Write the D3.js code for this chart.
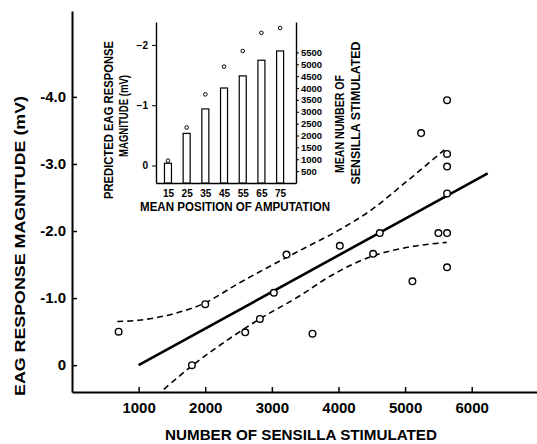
<!DOCTYPE html>
<html>
<head>
<meta charset="utf-8">
<script src="https://cdn.jsdelivr.net/npm/d3@7"></script>
<style>
  body { margin: 0; background: #fff; }
  svg { display: block; }
  text { font-family: "Liberation Sans", Arial, sans-serif; fill: #000; font-weight: bold; }
  .axis path, .axis line { stroke: #000; }
</style>
</head>
<body>
<div id="chart"></div>
<script>
// main plot: sensilla stimulated vs EAG response (mV, negative up)
var sensilla = [700, 1800, 2000, 2600, 2820, 3030, 3220, 3610, 4020, 4520, 4620, 5110, 5500, 5630, 5630, 5240, 5630, 5630, 5630, 5630];
var response = [-0.5, 0.0, -0.91, -0.49, -0.69, -1.08, -1.65, -0.47, -1.78, -1.66, -1.97, -1.25, -1.97, -1.97, -1.46, -3.46, -3.95, -3.15, -2.96, -2.56];

// regression line end points
var fitX = [1000, 6240];
var fitY = [0.0, -2.86];

// confidence band
var upperX = [680, 1000, 1500, 2000, 2500, 3000, 3500, 4000, 4500, 5000, 5590];
var upperY = [-0.65, -0.67, -0.76, -0.93, -1.22, -1.49, -1.75, -2.01, -2.32, -2.72, -3.21];
var lowerX = [1377, 1800, 2400, 2820, 3430, 3880, 4520, 5000, 5625];
var lowerY = [0.36, 0.01, -0.42, -0.69, -1.04, -1.33, -1.63, -1.75, -1.83];

var xTicks = [1000, 2000, 3000, 4000, 5000, 6000];
var yTicks = [0, -1, -2, -3, -4];

// inset: position of amputation
var positions = [15, 25, 35, 45, 55, 65, 75];
var meanSensilla = [830, 2090, 3120, 4000, 4510, 5170, 5560];
var predicted = [-0.08, -0.63, -1.18, -1.64, -1.90, -2.20, -2.28];
var insetLeftTicks = [0, -1, -2];
var insetRightTicks = [500, 1000, 1500, 2000, 2500, 3000, 3500, 4000, 4500, 5000, 5500];

var width = 537, height = 444;

var svg = d3.select('#chart').append('svg')
    .attr('width', width)
    .attr('height', height);

var x = d3.scaleLinear().domain([0, 6980]).range([72, 537]);
var y = d3.scaleLinear().domain([0.4, -5.28]).range([392, 11]);

// axes
var xAxis = svg.append('g')
    .attr('class', 'axis')
    .attr('transform', 'translate(0,392)')
    .call(d3.axisBottom(x).tickValues(xTicks).tickSize(-5).tickSizeOuter(0).tickPadding(10)
        .tickFormat(d3.format('d')));
xAxis.select('.domain').attr('stroke-width', 2);
xAxis.selectAll('line').attr('stroke-width', 1.5);
xAxis.selectAll('text').style('font-size', '15px').attr('dy', '0.71em');

var yAxis = svg.append('g')
    .attr('class', 'axis')
    .attr('transform', 'translate(72,0)')
    .call(d3.axisLeft(y).tickValues(yTicks).tickSize(-5).tickSizeOuter(0).tickPadding(6)
        .tickFormat(function(d) { return d === 0 ? '0' : d.toFixed(1); }));
yAxis.select('.domain').attr('stroke-width', 2);
yAxis.selectAll('line').attr('stroke-width', 1.5);
yAxis.selectAll('text').style('font-size', '15px');

svg.append('text')
    .attr('transform', 'translate(25,246) rotate(-90)')
    .attr('text-anchor', 'middle')
    .attr('textLength', 300)
    .attr('lengthAdjust', 'spacingAndGlyphs')
    .style('font-size', '15px')
    .text('EAG RESPONSE MAGNITUDE (mV)');

svg.append('text')
    .attr('x', 301)
    .attr('y', 440)
    .attr('text-anchor', 'middle')
    .attr('textLength', 272)
    .attr('lengthAdjust', 'spacingAndGlyphs')
    .style('font-size', '15px')
    .text('NUMBER OF SENSILLA STIMULATED');

// band + fit
var line = d3.line()
    .x(function(d) { return x(d[0]); })
    .y(function(d) { return y(d[1]); })
    .curve(d3.curveMonotoneX);

svg.append('path')
    .datum(d3.zip(upperX, upperY))
    .attr('d', line)
    .attr('fill', 'none')
    .attr('stroke', '#000')
    .attr('stroke-width', 1.6)
    .attr('stroke-dasharray', '6,4');

svg.append('path')
    .datum(d3.zip(lowerX, lowerY))
    .attr('d', line)
    .attr('fill', 'none')
    .attr('stroke', '#000')
    .attr('stroke-width', 1.6)
    .attr('stroke-dasharray', '6,4');

svg.append('path')
    .datum(d3.zip(fitX, fitY))
    .attr('d', d3.line().x(function(d) { return x(d[0]); }).y(function(d) { return y(d[1]); }))
    .attr('fill', 'none')
    .attr('stroke', '#000')
    .attr('stroke-width', 2.6);

svg.append('g')
    .selectAll('circle')
    .data(d3.zip(sensilla, response))
    .enter()
    .append('circle')
    .attr('cx', function(d) { return x(d[0]); })
    .attr('cy', function(d) { return y(d[1]); })
    .attr('r', 3.3)
    .attr('fill', '#fff')
    .attr('stroke', '#000')
    .attr('stroke-width', 1.4);

// ---- inset ----
var ix = d3.scaleLinear().domain([8.6, 83.5]).range([156, 296]);
var iyL = d3.scaleLinear().domain([0.29, -2.38]).range([183, 22]);
var iyR = d3.scaleLinear().domain([0, 6780]).range([183, 22]);

var inset = svg.append('g');

var ib = inset.append('g')
    .attr('class', 'axis')
    .attr('transform', 'translate(0,183)')
    .call(d3.axisBottom(ix).tickValues(positions).tickSize(0).tickSizeOuter(0).tickPadding(7));
ib.select('.domain').attr('stroke-width', 1.4);
ib.selectAll('text').style('font-size', '10px');

var il = inset.append('g')
    .attr('class', 'axis')
    .attr('transform', 'translate(156,0)')
    .call(d3.axisLeft(iyL).tickValues(insetLeftTicks).tickSize(4).tickSizeOuter(0).tickPadding(4)
        .tickFormat(function(d) { return d === 0 ? '0' : d3.format('d')(d); }));
il.select('.domain').attr('stroke-width', 1.4);
il.selectAll('text').style('font-size', '10px');

var ir = inset.append('g')
    .attr('class', 'axis')
    .attr('transform', 'translate(296,0)')
    .call(d3.axisRight(iyR).tickValues(insetRightTicks).tickSize(3).tickSizeOuter(0).tickPadding(2)
        .tickFormat(d3.format('d')));
ir.select('.domain').attr('stroke-width', 1.4);
ir.selectAll('text').style('font-size', '9.5px');

inset.append('g')
    .selectAll('rect')
    .data(d3.zip(positions, meanSensilla))
    .enter()
    .append('rect')
    .attr('x', function(d) { return ix(d[0]) - 3.5; })
    .attr('y', function(d) { return iyR(d[1]); })
    .attr('width', 7)
    .attr('height', function(d) { return iyR(0) - iyR(d[1]); })
    .attr('fill', '#fff')
    .attr('stroke', '#000')
    .attr('stroke-width', 1.2);

inset.append('g')
    .selectAll('circle')
    .data(d3.zip(positions, predicted))
    .enter()
    .append('circle')
    .attr('cx', function(d) { return ix(d[0]); })
    .attr('cy', function(d) { return iyL(d[1]); })
    .attr('r', 1.8)
    .attr('fill', '#fff')
    .attr('stroke', '#000')
    .attr('stroke-width', 1);

inset.append('text')
    .attr('x', 235)
    .attr('y', 211)
    .attr('text-anchor', 'middle')
    .attr('textLength', 190)
    .attr('lengthAdjust', 'spacingAndGlyphs')
    .style('font-size', '12px')
    .text('MEAN POSITION OF AMPUTATION');

inset.append('text')
    .attr('transform', 'translate(113,120) rotate(-90)')
    .attr('text-anchor', 'middle')
    .attr('textLength', 158)
    .attr('lengthAdjust', 'spacingAndGlyphs')
    .style('font-size', '12px')
    .text('PREDICTED EAG RESPONSE');

inset.append('text')
    .attr('transform', 'translate(127.5,116) rotate(-90)')
    .attr('text-anchor', 'middle')
    .attr('textLength', 82)
    .attr('lengthAdjust', 'spacingAndGlyphs')
    .style('font-size', '12px')
    .text('MAGNITUDE (mV)');

inset.append('text')
    .attr('transform', 'translate(343.5,124) rotate(-90)')
    .attr('text-anchor', 'middle')
    .attr('textLength', 98)
    .attr('lengthAdjust', 'spacingAndGlyphs')
    .style('font-size', '12px')
    .text('MEAN NUMBER OF');

inset.append('text')
    .attr('transform', 'translate(359.5,113) rotate(-90)')
    .attr('text-anchor', 'middle')
    .attr('textLength', 143)
    .attr('lengthAdjust', 'spacingAndGlyphs')
    .style('font-size', '12px')
    .text('SENSILLA STIMULATED');
</script>
</body>
</html>
